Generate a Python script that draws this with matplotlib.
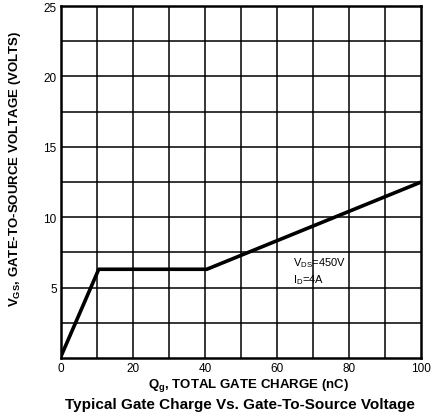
import matplotlib
matplotlib.use("Agg")
import matplotlib.pyplot as plt
import numpy as np

plt.rcParams['font.family'] = ['Liberation Sans', 'DejaVu Sans']

# gate charge curve
qg = [0, 10.5, 40.5, 100]
vgs = [0.1, 6.3, 6.3, 12.5]

xticks = [0, 20, 40, 60, 80, 100]
yticks = [5, 10, 15, 20, 25]

fig = plt.figure(figsize=(4.32, 4.14), dpi=100)
ax = fig.add_axes([0.141, 0.133, 0.834, 0.850])

# grid
for gx in np.arange(10, 100, 10):
    ax.axvline(gx, color='black', lw=1.1, zorder=1)
for gy in np.arange(2.5, 25, 2.5):
    ax.axhline(gy, color='black', lw=1.1, zorder=1)

ax.plot(qg, vgs, color='black', lw=2.6, solid_capstyle='butt', zorder=3)

ax.set_xlim(0, 100)
ax.set_ylim(0, 25)
ax.set_xticks(xticks)
ax.set_yticks(yticks)
ax.tick_params(length=0, labelsize=8.5, pad=3)
for s in ax.spines.values():
    s.set_linewidth(1.8)

ax.text(64.3, 6.8, 'V$_{\\mathregular{DS}}$=450V', fontsize=8, va='center')
ax.text(64.3, 5.6, 'I$_{\\mathregular{D}}$=4A', fontsize=8, va='center')

ax.set_xlabel('Q$_{\\mathregular{g}}$, TOTAL GATE CHARGE (nC)', fontsize=9.5, fontweight='bold')
ax.xaxis.set_label_coords(0.52, -0.052)
ax.set_ylabel('V$_{\\mathregular{GS}}$, GATE-TO-SOURCE VOLTAGE (VOLTS)', fontsize=9.5, fontweight='bold')
ax.yaxis.set_label_coords(-0.105, 0.54)
fig.text(0.555, 0.004, 'Typical Gate Charge Vs. Gate-To-Source Voltage', ha='center', va='bottom',
         fontsize=11, fontweight='bold')

fig.savefig('out.png', dpi=100)
